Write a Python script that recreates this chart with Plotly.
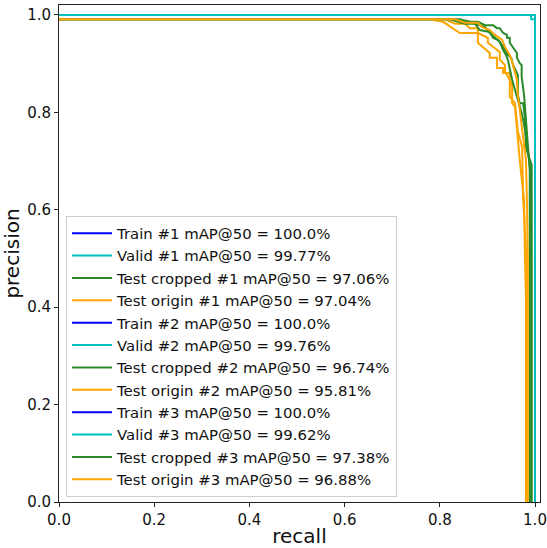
import plotly.graph_objects as go

# ---- data (recall, precision) ----
train_r = [0.0, 1.0, 1.0]
train_p = [1.0, 1.0, 0.0]

valid1_r = [0.0, 1.0, 1.0]
valid1_p = [1.0, 1.0, 0.0]
valid2_r = [0.0, 1.0, 1.0]
valid2_p = [1.0, 1.0, 0.0]
valid3_r = [0.0, 0.992, 0.992, 1.0, 1.0]
valid3_p = [1.0, 1.0, 0.991, 0.991, 0.0]

crop1_r = [0, 0.832, 0.847, 0.880, 0.895, 0.912, 0.920, 0.926, 0.933, 0.941, 0.941, 0.947,
           0.947, 0.954, 0.962, 0.962, 0.968, 0.972, 0.972, 0.977, 0.981, 0.985, 0.989, 0.989]
crop1_p = [0.991, 0.991, 0.986, 0.986, 0.979, 0.979, 0.973, 0.973, 0.963, 0.959, 0.953, 0.953,
           0.943, 0.934, 0.922, 0.912, 0.901, 0.897, 0.873, 0.836, 0.784, 0.743, 0.682, 0]
orig1_r = [0, 0.811, 0.832, 0.853, 0.863, 0.880, 0.880, 0.901, 0.901, 0.916, 0.926, 0.926,
           0.937, 0.937, 0.947, 0.952, 0.952, 0.958, 0.964, 0.968, 0.977, 0.979, 0.983, 0.983]
orig1_p = [0.991, 0.991, 0.982, 0.982, 0.973, 0.973, 0.963, 0.953, 0.943, 0.932, 0.924, 0.908,
           0.897, 0.883, 0.867, 0.856, 0.819, 0.811, 0.743, 0.702, 0.620, 0.497, 0.353, 0]

crop2_r = [0, 0.821, 0.853, 0.874, 0.884, 0.905, 0.912, 0.922, 0.931, 0.937, 0.943, 0.950,
           0.954, 0.964, 0.964, 0.968, 0.975, 0.979, 0.981, 0.993, 0.993]
crop2_p = [0.991, 0.991, 0.982, 0.982, 0.969, 0.965, 0.953, 0.949, 0.938, 0.928, 0.918, 0.912,
           0.897, 0.877, 0.836, 0.819, 0.819, 0.789, 0.727, 0.692, 0]
orig2_r = [0, 0.779, 0.807, 0.842, 0.880, 0.880, 0.905, 0.905, 0.920, 0.920, 0.933, 0.933,
           0.947, 0.947, 0.958, 0.964, 0.973, 0.975, 0.981, 0.981]
orig2_p = [0.991, 0.991, 0.986, 0.963, 0.963, 0.943, 0.922, 0.912, 0.912, 0.891, 0.891, 0.881,
           0.881, 0.832, 0.819, 0.760, 0.729, 0.626, 0.517, 0]

crop3_r = [0, 0.842, 0.863, 0.895, 0.905, 0.916, 0.926, 0.933, 0.939, 0.943, 0.947, 0.952,
           0.958, 0.964, 0.973, 0.979, 0.985, 0.989, 0.992, 0.992]
crop3_p = [0.991, 0.991, 0.986, 0.975, 0.963, 0.953, 0.945, 0.928, 0.918, 0.908, 0.887, 0.867,
           0.846, 0.825, 0.795, 0.764, 0.723, 0.692, 0.620, 0]
orig3_r = [0, 0.832, 0.853, 0.880, 0.889, 0.905, 0.916, 0.931, 0.937, 0.947, 0.952, 0.956,
           0.962, 0.964, 0.968, 0.973, 0.977, 0.981, 0.983, 0.985, 0.985]
orig3_p = [0.991, 0.991, 0.984, 0.984, 0.975, 0.969, 0.959, 0.949, 0.934, 0.918, 0.903, 0.887,
           0.867, 0.836, 0.805, 0.774, 0.743, 0.702, 0.620, 0.497, 0]

map_train = ["100.0", "100.0", "100.0"]
map_valid = ["99.77", "99.76", "99.62"]
map_crop = ["97.06", "96.74", "97.38"]
map_orig = ["97.04", "95.81", "96.88"]

tick_vals = [0.0, 0.2, 0.4, 0.6, 0.8, 1.0]

BLUE = "#0000ff"
CYAN = "#00bfbf"
GREEN = "#2a8a2a"
ORANGE = "#ffa500"

runs = [
    (valid1_r, valid1_p, crop1_r, crop1_p, orig1_r, orig1_p),
    (valid2_r, valid2_p, crop2_r, crop2_p, orig2_r, orig2_p),
    (valid3_r, valid3_p, crop3_r, crop3_p, orig3_r, orig3_p),
]

fig = go.Figure()
# train curves first (they lie underneath the valid curves in the reference)
for i in range(3):
    n = i + 1
    fig.add_trace(go.Scatter(x=train_r, y=train_p, mode="lines",
                             line=dict(color=BLUE, width=2), legendrank=100 + 4 * i,
                             name=f"Train #{n} mAP@50 = {map_train[i]}%"))
for i, (vr, vp, cr, cp, orr, op) in enumerate(runs):
    n = i + 1
    fig.add_trace(go.Scatter(x=vr, y=vp, mode="lines",
                             line=dict(color=CYAN, width=2), legendrank=101 + 4 * i,
                             name=f"Valid #{n} mAP@50 = {map_valid[i]}%"))
    fig.add_trace(go.Scatter(x=cr, y=cp, mode="lines",
                             line=dict(color=GREEN, width=2), legendrank=102 + 4 * i,
                             name=f"Test cropped #{n} mAP@50 = {map_crop[i]}%"))
    fig.add_trace(go.Scatter(x=orr, y=op, mode="lines",
                             line=dict(color=ORANGE, width=2), legendrank=103 + 4 * i,
                             name=f"Test origin #{n} mAP@50 = {map_orig[i]}%"))

axis_common = dict(
    showgrid=False, zeroline=False, showline=True, mirror=True,
    linecolor="#222", linewidth=1, ticks="outside", ticklen=4,
    tickcolor="#222", tickvals=tick_vals, tickformat=".1f", automargin=False,
    tickfont=dict(family="DejaVu Sans", size=15, color="#111"),
)

fig.update_layout(
    width=547, height=548,
    margin=dict(l=59, r=7, t=5, b=46),
    paper_bgcolor="white", plot_bgcolor="white",
    font=dict(family="DejaVu Sans", color="#111"),
    xaxis=dict(range=[0, 1.0105], title=dict(text="recall", font=dict(size=20), standoff=6),
               **axis_common),
    yaxis=dict(range=[0, 1.0205], title=dict(text="precision", font=dict(size=20), standoff=6),
               **axis_common),
    legend=dict(x=0.0146, y=0.01, xanchor="left", yanchor="bottom",
                bgcolor="rgba(255,255,255,0.85)", bordercolor="#cccccc", borderwidth=1,
                font=dict(family="DejaVu Sans", size=14.9, color="#111"),
                itemwidth=40, tracegroupgap=0),
    showlegend=True,
)

fig.write_html("out.html")
